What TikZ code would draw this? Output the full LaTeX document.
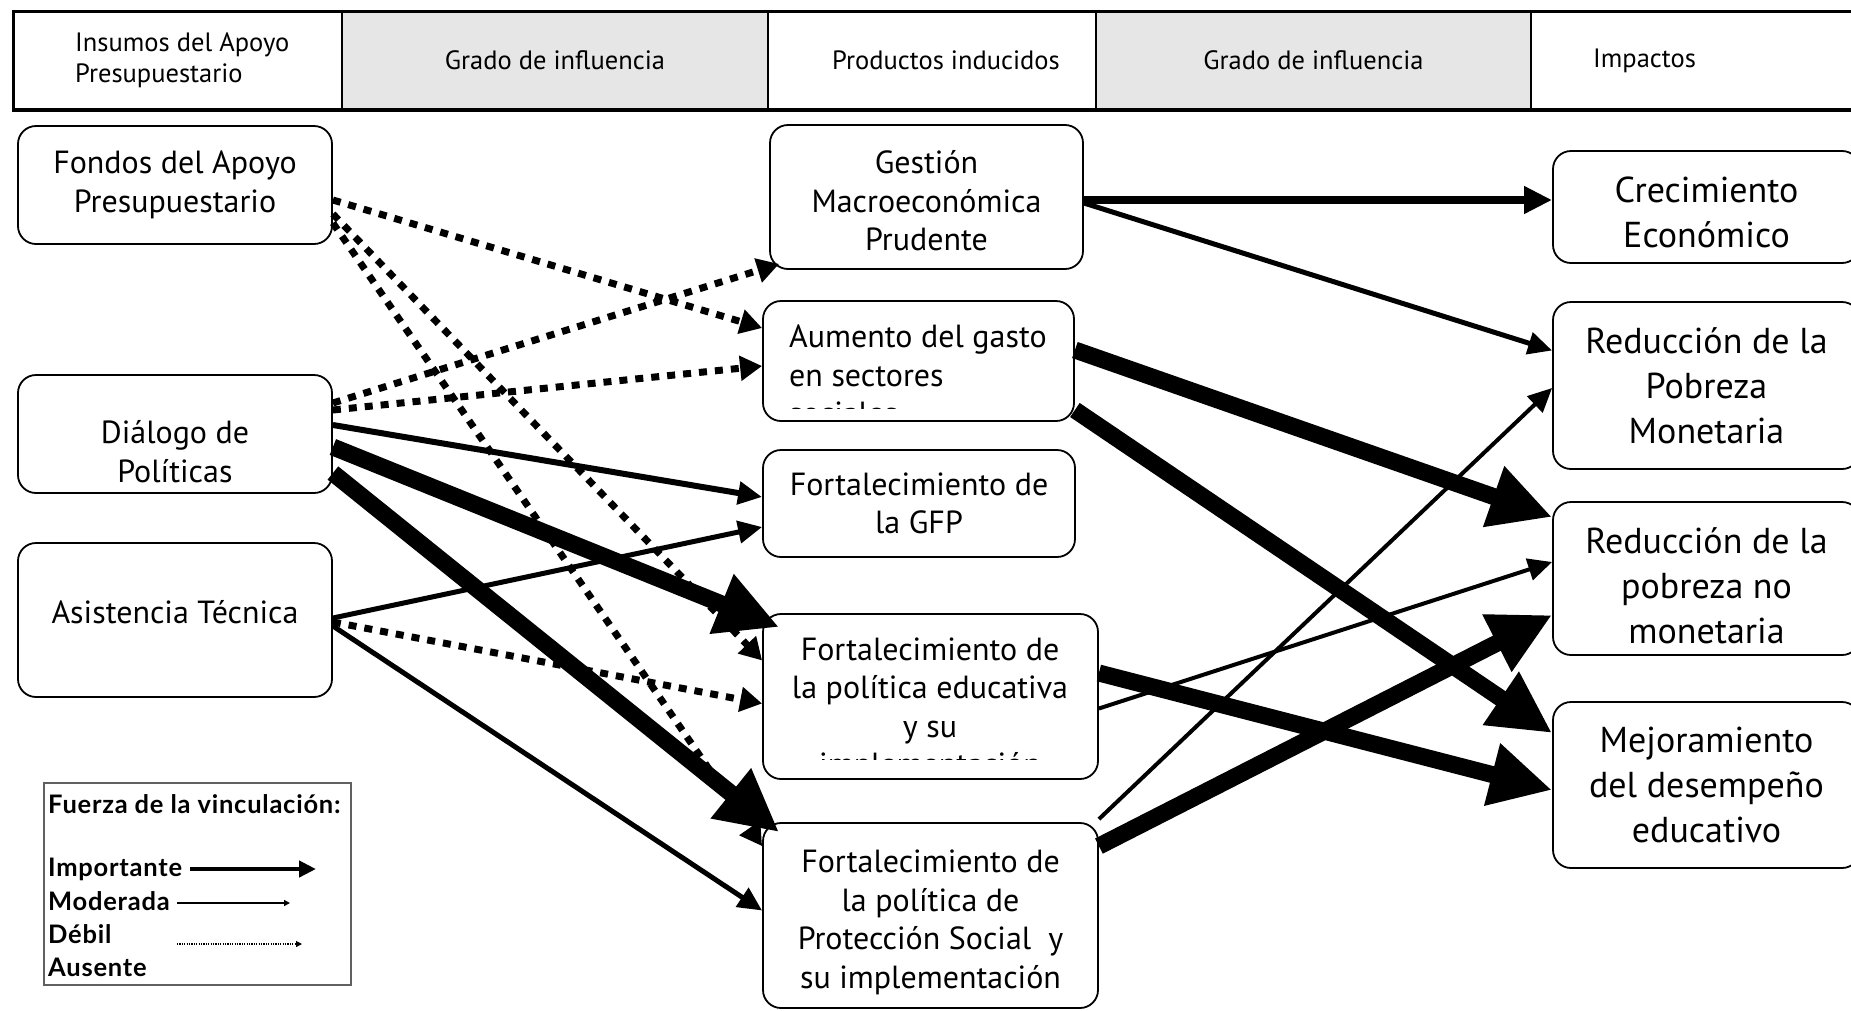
\documentclass[tikz,border=0pt]{standalone}
\usepackage{fontspec}
\setmainfont{PT Sans}
\newfontfamily\leyendafont[LetterSpace=3]{Lato}
\usetikzlibrary{positioning, arrows.meta}
\definecolor{grisclaro}{HTML}{E6E6E6}
\definecolor{grisborde}{HTML}{606060}

\begin{document}
\begin{tikzpicture}[x=1pt, y=-1pt,
    caja/.style={rectangle, rounded corners=18pt, draw=black, line width=1.8pt, fill=white, align=center, inner sep=0pt, font=\fontsize{32}{38.5}\selectfont},
    impacto/.style={caja, minimum width=307pt, font=\fontsize{36}{45}\selectfont},
    celda/.style={rectangle, draw=black, line width=2pt, minimum height=97pt, inner sep=0pt},
    cabecera/.style={inner sep=0pt, align=left, font=\fontsize{26.5}{31}\selectfont},
    debil/.style={line width=7pt, dash pattern=on 8pt off 8pt, -{Triangle[length=22pt, width=24pt]}},
    moderada/.style={line width=5pt, -{Triangle[length=24pt, width=22pt]}},
    importante/.style={line width=17pt, -{Triangle[length=62pt, width=60pt]}},
    leyendatxt/.style={inner sep=0pt, anchor=west, font=\leyendafont\bfseries\fontsize{25.5}{30}\selectfont},
    ]
    \useasboundingbox (0,0) rectangle (1851,1010);

    %Cabecera
    \node[celda, minimum width=328pt]                 (h1) at (178,60.5)    {};
    \node[celda, fill=grisclaro, minimum width=426pt] (h2) at (555,60.5)    {};
    \node[celda, minimum width=328pt]                 (h3) at (932,60.5)    {};
    \node[celda, fill=grisclaro, minimum width=435pt] (h4) at (1313.5,60.5) {};
    \node[celda, minimum width=329pt]                 (h5) at (1695.5,60.5) {};
    \draw[line width=3pt] (h1.north west) rectangle (h5.south east);

    \node[cabecera, right=62pt of h1.west]  (t1) {Insumos del Apoyo\\Presupuestario};
    \node[cabecera]                         (t2) at (h2.center) {Grado de influencia};
    \node[cabecera, xshift=14pt]            (t3) at (h3.center) {Productos inducidos};
    \node[cabecera]                         (t4) at (h4.center) {Grado de influencia};
    \node[cabecera, right=63pt of h5.west]  (t5) {Impactos};

    %Insumos
    \node[caja, minimum width=314pt, minimum height=118pt] (fondos) at (175,185) {Fondos del Apoyo\\Presupuestario};
    \node[caja, minimum width=314pt, minimum height=118pt, text height=96.5pt, text depth=0pt] (dialogo) at (175,434) {Diálogo de\\Políticas};
    \node[caja, minimum width=314pt, minimum height=154pt, text height=24pt, text depth=18pt] (asistencia) at (175,620) {Asistencia Técnica};

    %Productos
    \node[caja, minimum width=313pt, minimum height=144pt, text height=107pt, text depth=0pt] (gestion) at (926.5,197) {Gestión\\Macroeconómica\\Prudente};
    \node[caja, minimum width=311pt, minimum height=120pt] (gasto) at (918.5,361) {};
    \node[caja, minimum width=312pt, minimum height=107pt] (gfp) at (919,503.5) {Fortalecimiento de\\la GFP};
    \node[caja, minimum width=335pt, minimum height=165pt] (educ) at (930.5,696.5) {};
    \node[caja, minimum width=335pt, minimum height=185pt, text height=152pt, text depth=7pt] (prot) at (930.5,915.5) {Fortalecimiento de\\la política de\\Protección Social\ \ y\\su implementación};

    \begin{scope}
      \clip (gasto.north west) rectangle ([yshift=13pt]gasto.south east);
      \node[cabecera, anchor=west, font=\fontsize{32}{38.5}\selectfont] (gastotxt) at (789,375) {Aumento del gasto\\en sectores\\sociales};
    \end{scope}
    \begin{scope}
      \clip (educ.north west) rectangle ([yshift=20pt]educ.south east);
      \node[caja, draw=none, fill=none] (eductxt) at (930,710) {Fortalecimiento de\\la política educativa\\y su\\implementación};
    \end{scope}

    %Impactos
    \node[impacto, minimum height=112pt, text height=81pt, text depth=0pt] (crec) at (1706.5,207) {Crecimiento\\Económico};
    \node[impacto, minimum height=167pt] (pobmon) at (1706.5,385.5) {Reducción de la\\Pobreza\\Monetaria};
    \node[impacto, minimum height=153pt, text height=130pt, text depth=0pt] (pobnomon) at (1706.5,578.5) {Reducción de la\\pobreza no\\monetaria};
    \node[impacto, minimum height=166pt] (educdes) at (1706.5,785) {Mejoramiento\\del desempeño\\educativo};

    %Vinculos debiles
    \draw[debil] ([yshift=-15pt]fondos.east) -- ([yshift=33pt]gasto.west);
    \draw[debil] ([yshift=-29pt]fondos.east) -- ([yshift=36pt]educ.west);
    \draw[debil] ([yshift=-38pt]fondos.east) -- ([yshift=-24pt]prot.north west);
    \draw[debil] ([yshift=31pt]dialogo.east) -- ([xshift=10pt,yshift=6pt]gestion.south west);
    \draw[debil] ([yshift=24pt]dialogo.east) -- ([yshift=-5pt]gasto.west);
    \draw[debil] ([yshift=-2pt]asistencia.east) -- ([yshift=-7pt]educ.west);

    %Vinculos moderados
    \draw[moderada, line width=6pt] ([yshift=9pt]dialogo.east) -- ([yshift=6.5pt]gfp.west);
    \draw[moderada] ([yshift=2pt]asistencia.east) -- ([yshift=-23.5pt]gfp.west);
    \draw[moderada] ([yshift=-6pt]asistencia.east) -- ([yshift=5pt]prot.west);
    \draw[moderada] ([yshift=-6pt]gestion.east) -- ([yshift=35pt]pobmon.west);
    \draw[moderada, line width=4pt] ([yshift=-12pt]educ.east) -- ([yshift=16.5pt]pobnomon.west);
    \draw[moderada, line width=4pt] ([yshift=3pt]prot.north east) -- ([yshift=-2.5pt]pobmon.west);
    \draw[moderada, line width=8pt, -{Triangle[length=28pt, width=26pt]}] ([yshift=-3pt]gestion.east) -- ([yshift=7pt]crec.west);

    %Vinculos importantes
    \draw[importante] ([yshift=-13pt]dialogo.east) -- ([xshift=17pt,yshift=-14pt]educ.north west);
    \draw[importante] ([yshift=-39pt]dialogo.east) -- ([xshift=17pt,yshift=-10pt]prot.north west);
    \draw[importante] ([yshift=11pt]gasto.east) -- ([yshift=61.5pt]pobnomon.west);
    \draw[importante] ([yshift=-49pt]gasto.east) -- ([yshift=52pt]educdes.west);
    \draw[importante] ([yshift=23.5pt]educ.east) -- ([yshift=-5pt]educdes.west);
    \draw[importante] ([yshift=-24pt]prot.north east) -- ([yshift=-36.5pt]pobnomon.west);

    %Leyenda
    \node[draw=grisborde, line width=1.5pt, minimum width=307pt, minimum height=202pt, inner sep=0pt] (leyenda) at (197.5,884) {};
    \node[leyendatxt] (fuerza) at (48,804) {Fuerza de la vinculación:};
    \node[leyendatxt] (imp) at (48,869) {Importante};
    \node[leyendatxt] (mod) at (48,901) {Moderada};
    \node[leyendatxt] (deb) at (48,934) {Débil};
    \node[leyendatxt] (aus) at (48,967) {Ausente};
    \coordinate (impfin) at (316,869);
    \coordinate (modini) at (177,903);
    \coordinate (modfin) at (290,903);
    \coordinate (debini) at (177,944);
    \coordinate (debfin) at (302,944);
    \draw[line width=4.5pt, -{Triangle[length=17pt, width=16pt]}] ([xshift=8pt]imp.east) -- (impfin);
    \draw[line width=1.3pt, -{Triangle[length=6pt, width=6pt]}] (modini) -- (modfin);
    \draw[line width=1.2pt, dash pattern=on 1.2pt off 1.2pt, -{Triangle[length=6pt, width=6pt]}] (debini) -- (debfin);
  \end{tikzpicture}
\end{document}
